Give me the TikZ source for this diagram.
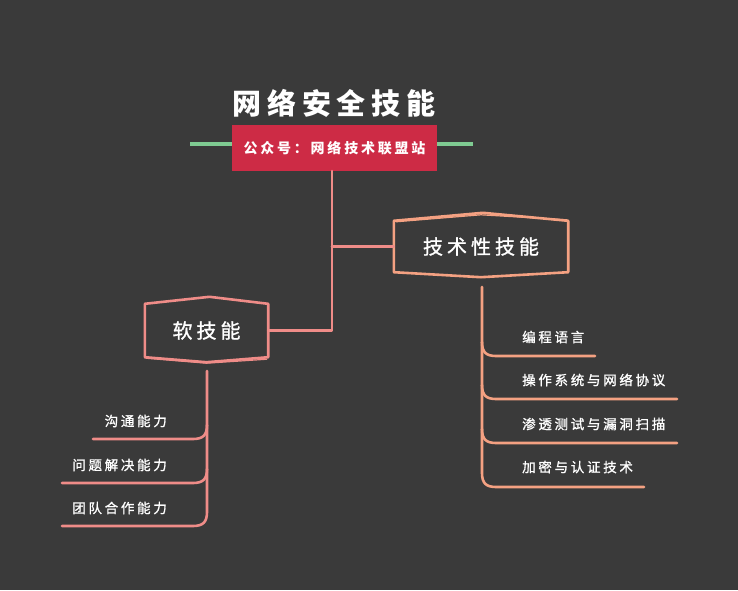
\documentclass[tikz,border=0pt]{standalone}
\usepackage{fontspec}
\newfontfamily\cjk[LetterSpace=20]{Noto Sans CJK SC}
\newfontfamily\cjkm[LetterSpace=20,FakeBold=1.2]{Noto Sans CJK SC}
\usetikzlibrary{calc}
\definecolor{bg}{HTML}{3A3A3A}
\definecolor{hdrred}{HTML}{CD2B45}
\definecolor{hdrgreen}{HTML}{7FCB92}
\definecolor{pinkln}{HTML}{EF8C88}
\definecolor{orangeln}{HTML}{F4A182}
\tikzset{
  ttl/.style={text=white,font=\cjk\bfseries\fontsize{29}{32}\selectfont,inner sep=0},
  sub/.style={fill=hdrred,text=white,font=\cjk\bfseries\fontsize{14}{16}\selectfont,minimum width=205,minimum height=46,inner sep=0},
  topic/.style={text=white,font=\cjkm\fontsize{20}{22}\selectfont,inner sep=0},
  leaf/.style={text=white,font=\cjkm\fontsize{13.5}{15}\selectfont,inner sep=0},
  pk/.style={draw=pinkln,line width=2.6,line cap=round,line join=round},
  og/.style={draw=orangeln,line width=2.6,line cap=round,line join=round},
}
\begin{document}
\begin{tikzpicture}[x=1pt,y=-1pt]
\fill[bg] (0,0) rectangle (738,590);
\useasboundingbox (0,0) rectangle (738,590);

% title
\node[ttl] (title) at (334,103) {网络安全技能};

% green bar and red subtitle box
\coordinate (gl) at (190,144);
\coordinate (gr) at (473,144);
\draw[draw=hdrgreen,line width=3.5] (gl) -- (gr);
\node[sub] (sub) at (334.5,148) {公众号：网络技术联盟站};

% topic boxes
\node[topic,minimum width=174,minimum height=51] (tech) at (481,246.5) {技术性技能};
\node[topic,minimum width=123,minimum height=53] (soft) at (206.5,330.5) {软技能};

\draw[og] (tech.north west) -- ($(tech.north)+(2,-8)$) -- (tech.north east) -- (tech.south east) -- ($(tech.south)+(0,5)$) -- (tech.south west) -- cycle;
\draw[draw=orangeln,line width=1.2] ($(tech.north west)+(2,1)$) -- ($(tech.north)+(0,-6)$) -- ($(tech.north east)+(-1,-1)$);
\draw[pk] (soft.north west) -- ($(soft.north)+(3,-7)$) -- (soft.north east) -- (soft.south east) -- ($(soft.south)+(0,5)$) -- (soft.south west) -- cycle;
\draw[draw=pinkln,line width=1.2] ($(soft.south west)+(1,1)$) -- ($(soft.south)+(0,6)$) -- ($(soft.south east)+(-1,2)$);

% main connectors
\coordinate (j) at (332,171);
\draw[pk] (j) -- (j |- soft.east) -- (soft.east);
\draw[pk] (j |- tech.west) -- (tech.west);

% soft skills leaves
\coordinate (sv) at (207,371);
\node[leaf,anchor=east] (s1) at (167,421) {沟通能力};
\node[leaf,anchor=east] (s2) at (167,465) {问题解决能力};
\node[leaf,anchor=east] (s3) at (167,508) {团队合作能力};
\coordinate (s1e) at (93,439);
\coordinate (s2e) at (62,483);
\coordinate (s3e) at (62,526);
\draw[pk] (sv) -- ($(sv |- s3e)+(0,-14)$) .. controls ($(sv |- s3e)+(0,-4)$) and ($(sv |- s3e)+(-4,0)$) .. ($(sv |- s3e)+(-14,0)$) -- (s3e);
\foreach \e in {s1e,s2e}{
  \draw[pk] ($(sv |- \e)+(0,-14)$) .. controls ($(sv |- \e)+(0,-4)$) and ($(sv |- \e)+(-4,0)$) .. ($(sv |- \e)+(-14,0)$) -- (\e);
}

% technical skills leaves
\coordinate (tv) at (482,287);
\node[leaf,anchor=west] (t1) at (522,337) {编程语言};
\node[leaf,anchor=west] (t2) at (522,380) {操作系统与网络协议};
\node[leaf,anchor=west] (t3) at (522,424) {渗透测试与漏洞扫描};
\node[leaf,anchor=west] (t4) at (522,467) {加密与认证技术};
\coordinate (t1e) at (595,356);
\coordinate (t2e) at (677,399);
\coordinate (t3e) at (677,443);
\coordinate (t4e) at (644,487);
\draw[og] (tv) -- ($(tv |- t4e)+(0,-14)$) .. controls ($(tv |- t4e)+(0,-4)$) and ($(tv |- t4e)+(4,0)$) .. ($(tv |- t4e)+(14,0)$) -- (t4e);
\foreach \e in {t1e,t2e,t3e}{
  \draw[og] ($(tv |- \e)+(0,-14)$) .. controls ($(tv |- \e)+(0,-4)$) and ($(tv |- \e)+(4,0)$) .. ($(tv |- \e)+(14,0)$) -- (\e);
}
\end{tikzpicture}
\end{document}
